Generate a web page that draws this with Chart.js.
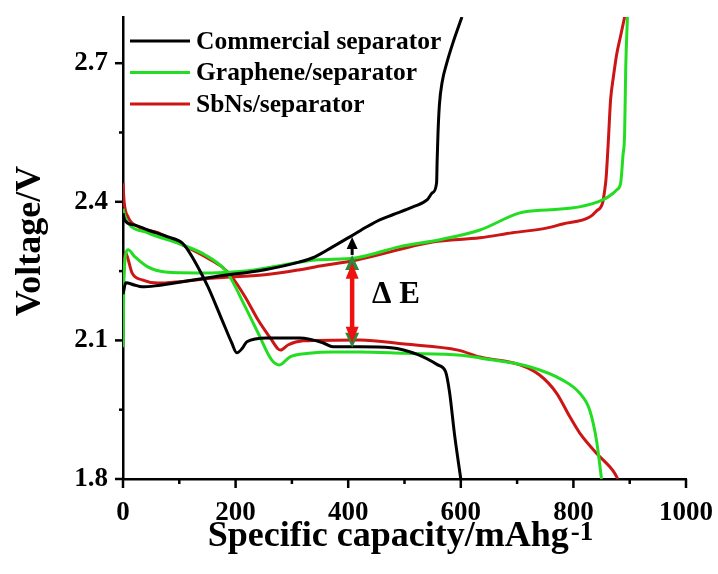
<!DOCTYPE html>
<html><head><meta charset="utf-8">
<script src="https://cdn.jsdelivr.net/npm/chart.js@4.4.1/dist/chart.umd.min.js"></script>
<style>html,body{margin:0;padding:0;background:#fff}canvas{display:block}</style>
</head><body>
<canvas id="c" width="718" height="574"></canvas>
<script>
// ---- data (capacity mAh/g, voltage V) ----
const seriesNames = ['Commercial separator', 'Graphene/separator', 'SbNs/separator'];
const seriesColors = ['#000000', '#22dd22', '#cc1515'];

const commercialDischargeCap = [0, 3, 20, 44, 80, 105, 115, 133, 151, 176, 193, 202, 212, 220, 255, 314, 355, 373, 421, 476, 524, 559, 573, 580, 589, 600];
const commercialDischargeV   = [2.375, 2.36, 2.35, 2.339, 2.324, 2.311, 2.296, 2.259, 2.216, 2.144, 2.095, 2.073, 2.083, 2.097, 2.105, 2.105, 2.095, 2.086, 2.086, 2.084, 2.069, 2.047, 2.032, 1.988, 1.895, 1.80];
const commercialChargeCap = [0, 5, 20, 34, 57, 100, 163, 252, 314, 341, 373, 403, 433, 456, 479, 515, 540, 550, 557, 558, 559.5, 562, 567, 575, 586, 602];
const commercialChargeV   = [2.20, 2.225, 2.22, 2.216, 2.218, 2.226, 2.238, 2.253, 2.270, 2.281, 2.303, 2.324, 2.346, 2.361, 2.372, 2.389, 2.404, 2.42, 2.441, 2.49, 2.549, 2.61, 2.66, 2.70, 2.744, 2.80];

const grapheneDischargeCap = [0, 3, 9, 44, 105, 146, 181, 193, 217, 240, 264, 278, 296, 330, 373, 420, 500, 600, 634, 722, 781, 811, 829, 841, 850];
const grapheneDischargeV   = [2.385, 2.37, 2.354, 2.333, 2.307, 2.285, 2.253, 2.231, 2.173, 2.116, 2.058, 2.047, 2.064, 2.072, 2.075, 2.075, 2.072, 2.068, 2.062, 2.043, 2.014, 1.986, 1.949, 1.884, 1.80];
const grapheneChargeCap = [0, 2, 9, 21, 44, 75, 133, 222, 341, 415, 492, 563, 634, 705, 760, 811, 852, 870, 877, 884, 888, 891, 893, 896];
const grapheneChargeV   = [2.085, 2.25, 2.296, 2.281, 2.259, 2.248, 2.246, 2.251, 2.274, 2.279, 2.303, 2.318, 2.339, 2.376, 2.383, 2.389, 2.404, 2.418, 2.426, 2.441, 2.50, 2.549, 2.692, 2.80];

const sbnsDischargeCap = [0, 2, 9, 27, 62, 105, 146, 176, 193, 217, 240, 264, 275, 280, 293, 320, 421, 500, 595, 634, 705, 740, 770, 794, 811, 841, 865, 872, 879];
const sbnsDischargeV   = [2.44, 2.40, 2.367, 2.346, 2.333, 2.307, 2.281, 2.259, 2.238, 2.194, 2.144, 2.101, 2.082, 2.079, 2.09, 2.099, 2.101, 2.092, 2.079, 2.064, 2.047, 2.025, 1.986, 1.934, 1.900, 1.856, 1.826, 1.815, 1.80];
const sbnsChargeCap = [0, 4, 8, 16, 34, 62, 163, 252, 314, 341, 415, 550, 634, 692, 752, 781, 829, 841, 852, 855, 858, 862, 866, 871, 877, 884, 891];
const sbnsChargeV   = [2.21, 2.29, 2.28, 2.246, 2.231, 2.224, 2.235, 2.242, 2.253, 2.259, 2.274, 2.313, 2.322, 2.333, 2.343, 2.352, 2.367, 2.38, 2.398, 2.42, 2.45, 2.53, 2.62, 2.67, 2.72, 2.76, 2.80];

// axis ticks
const xMajorTicks = [0, 200, 400, 600, 800, 1000];
const xMinorTicks = [100, 300, 500, 700, 900];
const yMajorTicks = [1.8, 2.1, 2.4, 2.7];
const yMinorTicks = [1.95, 2.25, 2.55];

// axis titles
const xTitleMain = 'Specific capacity/mAhg';
const xTitleSup = '-1';
const yTitle = 'Voltage/V';

// ΔE annotation (capacity, voltages)
const deltaECap = 407;
const blackArrowV = [2.285, 2.324];
const greenHeadTipsV = [2.285, 2.084];
const redArrowV = [2.268, 2.095];
const deltaELabel = 'Δ E';
const deltaELabelPos = [485, 2.198];

const toPts = (xs, ys) => xs.map((x, i) => ({x: x, y: ys[i]}));

const FONT = "'Liberation Serif', 'Times New Roman', serif";

function ds(label, xs, ys, color, inLegend) {
  return {
    label: label, data: toPts(xs, ys), borderColor: color, backgroundColor: color,
    showLine: true, pointRadius: 0, borderWidth: 3, cubicInterpolationMode: 'monotone',
    inLegend: inLegend
  };
}

const datasets = [
  ds(seriesNames[0], commercialDischargeCap, commercialDischargeV, seriesColors[0], true),
  ds(seriesNames[0], commercialChargeCap, commercialChargeV, seriesColors[0], false),
  ds(seriesNames[1], grapheneDischargeCap, grapheneDischargeV, seriesColors[1], true),
  ds(seriesNames[1], grapheneChargeCap, grapheneChargeV, seriesColors[1], false),
  ds(seriesNames[2], sbnsDischargeCap, sbnsDischargeV, seriesColors[2], true),
  ds(seriesNames[2], sbnsChargeCap, sbnsChargeV, seriesColors[2], false)
];

// dir = 1: points up (tip on top); dir = -1: points down
function head(ctx, x, tipY, dir, w, len, color) {
  ctx.fillStyle = color;
  ctx.beginPath();
  ctx.moveTo(x, tipY);
  ctx.lineTo(x - w / 2, tipY + dir * len);
  ctx.lineTo(x + w / 2, tipY + dir * len);
  ctx.closePath();
  ctx.fill();
}

const decorPlugin = {
  id: 'decor',
  afterDraw(chart) {
    const ctx = chart.ctx;
    const xs = chart.scales.x, ys = chart.scales.y;
    const area = chart.chartArea;
    ctx.save();
    // tick marks
    ctx.strokeStyle = '#000'; ctx.lineWidth = 2.5;
    const bottom = ys.getPixelForValue(1.8);
    const left = xs.getPixelForValue(0);
    xMajorTicks.forEach(v => { const p = xs.getPixelForValue(v); ctx.beginPath(); ctx.moveTo(p, bottom); ctx.lineTo(p, bottom + 9); ctx.stroke(); });
    xMinorTicks.forEach(v => { const p = xs.getPixelForValue(v); ctx.beginPath(); ctx.moveTo(p, bottom); ctx.lineTo(p, bottom + 5); ctx.stroke(); });
    yMajorTicks.forEach(v => { const p = ys.getPixelForValue(v); ctx.beginPath(); ctx.moveTo(left, p); ctx.lineTo(left - 8, p); ctx.stroke(); });
    yMinorTicks.forEach(v => { const p = ys.getPixelForValue(v); ctx.beginPath(); ctx.moveTo(left, p); ctx.lineTo(left - 4, p); ctx.stroke(); });

    // x axis title with superscript
    ctx.fillStyle = '#000';
    ctx.textBaseline = 'alphabetic';
    ctx.textAlign = 'left';
    const mainFont = 'bold 36px ' + FONT, supFont = 'bold 27px ' + FONT;
    ctx.font = mainFont; const w1 = ctx.measureText(xTitleMain).width;
    ctx.font = supFont; const w2 = ctx.measureText(xTitleSup).width;
    const cx = (area.left + area.right) / 2 - 4;
    const x0 = cx - (w1 + w2 + 2) / 2;
    const baseY = 546;
    ctx.font = mainFont; ctx.fillText(xTitleMain, x0, baseY);
    ctx.font = supFont; ctx.fillText(xTitleSup, x0 + w1 + 2, baseY - 6);

    // y axis title
    ctx.save();
    ctx.translate(40, (area.top + area.bottom) / 2 - 7);
    ctx.rotate(-Math.PI / 2);
    ctx.font = mainFont; ctx.textAlign = 'center'; ctx.textBaseline = 'alphabetic';
    ctx.fillText(yTitle, 0, 0);
    ctx.restore();

    // legend
    const legendItems = chart.data.datasets.filter(d => d.inLegend);
    ctx.font = 'bold 25.5px ' + FONT;
    ctx.textBaseline = 'middle';
    ctx.textAlign = 'left';
    legendItems.forEach((d, i) => {
      const y = area.top + 24 + i * 31.5;
      ctx.strokeStyle = d.borderColor; ctx.lineWidth = 3;
      ctx.beginPath(); ctx.moveTo(area.left + 7, y); ctx.lineTo(area.left + 67, y); ctx.stroke();
      ctx.fillStyle = '#000';
      ctx.fillText(d.label, area.left + 73, y + 1);
    });

    // ΔE arrows
    const ax = xs.getPixelForValue(deltaECap);
    const bTop = ys.getPixelForValue(blackArrowV[1]);
    const bBot = ys.getPixelForValue(blackArrowV[0]);
    ctx.strokeStyle = '#000'; ctx.lineWidth = 3;
    ctx.beginPath(); ctx.moveTo(ax, bBot); ctx.lineTo(ax, bTop + 8); ctx.stroke();
    head(ctx, ax, bTop, 1, 11, 12, '#000');
    head(ctx, ax, ys.getPixelForValue(greenHeadTipsV[0]), 1, 14, 15, '#2a8a3a');
    head(ctx, ax, ys.getPixelForValue(greenHeadTipsV[1]), -1, 14, 15, '#2a8a3a');
    const rTop = ys.getPixelForValue(redArrowV[0]);
    const rBot = ys.getPixelForValue(redArrowV[1]);
    ctx.strokeStyle = '#ee1111'; ctx.lineWidth = 4.5;
    ctx.beginPath(); ctx.moveTo(ax, rTop + 10); ctx.lineTo(ax, rBot - 10); ctx.stroke();
    head(ctx, ax, rTop, 1, 13, 16, '#ee1111');
    head(ctx, ax, rBot, -1, 13, 16, '#ee1111');
    // label
    ctx.fillStyle = '#000';
    ctx.font = 'bold 31px ' + FONT;
    ctx.textAlign = 'center';
    ctx.textBaseline = 'middle';
    ctx.fillText(deltaELabel, xs.getPixelForValue(deltaELabelPos[0]), ys.getPixelForValue(deltaELabelPos[1]));
    ctx.restore();
  }
};

new Chart(document.getElementById('c'), {
  type: 'scatter',
  data: { datasets: datasets },
  options: {
    responsive: false,
    devicePixelRatio: 1,
    animation: false,
    layout: { padding: { left: 0, right: 32, top: 17, bottom: 0 } },
    plugins: { legend: { display: false }, tooltip: { enabled: false } },
    scales: {
      x: {
        type: 'linear', position: 'bottom', min: 0, max: 1000,
        afterBuildTicks: s => { s.ticks = xMajorTicks.map(v => ({value: v})); },
        afterFit: s => { s.height = 95; s.paddingLeft = 0; s.paddingRight = 0; },
        grid: { display: false, drawTicks: false },
        border: { display: true, color: '#000', width: 2.5 },
        ticks: { color: '#000', font: { family: FONT, size: 27, weight: 'bold' }, padding: 18, maxRotation: 0, autoSkip: false, callback: v => String(v) },
        title: { display: false, text: xTitleMain + xTitleSup }
      },
      y: {
        type: 'linear', position: 'left', min: 1.8, max: 2.8,
        afterBuildTicks: s => { s.ticks = yMajorTicks.map(v => ({value: v})); },
        afterFit: s => { s.width = 123; s.paddingTop = 0; s.paddingBottom = 0; },
        grid: { display: false, drawTicks: false },
        border: { display: true, color: '#000', width: 2.5 },
        ticks: { color: '#000', font: { family: FONT, size: 27, weight: 'bold' }, padding: 15, autoSkip: false, callback: v => Number(v).toFixed(1) },
        title: { display: false, text: yTitle }
      }
    }
  },
  plugins: [decorPlugin]
});
</script>
</body></html>
